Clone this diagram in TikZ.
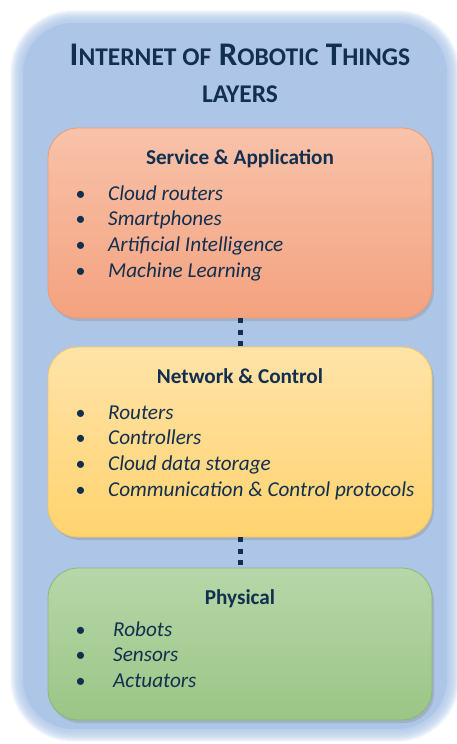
\documentclass[tikz,border=0pt]{standalone}
\usepackage{fontspec}
\setmainfont{Carlito}
\usepackage{xcolor}
\usetikzlibrary{positioning,shadows}

\definecolor{inkblue}{HTML}{132F4F}
\definecolor{backdrop}{HTML}{ADC6E7}
\definecolor{saTop}{HTML}{F8C2AA}
\definecolor{saBot}{HTML}{F4A27F}
\definecolor{saLine}{HTML}{EE9A72}
\definecolor{ncTop}{HTML}{FFE3A8}
\definecolor{ncBot}{HTML}{FFD36F}
\definecolor{ncLine}{HTML}{F4C55C}
\definecolor{phTop}{HTML}{B6D7A8}
\definecolor{phBot}{HTML}{9BC586}
\definecolor{phLine}{HTML}{8BB677}

\newcommand{\smallcap}[1]{{\fontsize{25.5}{30}\selectfont #1}}

\tikzset{
  layerbox/.style={rectangle, rounded corners=30pt, minimum width=384pt,
    line width=0.8pt, drop shadow={shadow xshift=2pt, shadow yshift=-3pt, opacity=0.3}},
  layerhead/.style={anchor=base, inner sep=0pt, text=inkblue, font=\fontsize{21.2}{24}\selectfont\bfseries},
  bulletdot/.style={anchor=base, inner sep=0pt, text=inkblue, font=\fontsize{20}{24}\selectfont},
  itemtext/.style={anchor=base west, inner sep=0pt, text=inkblue, font=\fontsize{21.2}{24}\selectfont\itshape},
  dots/.style={draw=inkblue, line width=5pt, dash pattern=on 5pt off 6.2pt}
}

\begin{document}
\begin{tikzpicture}[x=1pt,y=-1pt]
  \useasboundingbox (0,0) rectangle (457,744);

  % soft blue backdrop
  \foreach \d in {13,12.5,...,0.5}
    \fill[backdrop, opacity=0.07, rounded corners=50pt+\d pt]
      (23-\d,23-\d) rectangle (447+\d,729+\d);
  \fill[backdrop, rounded corners=50pt] (23,23) rectangle (447,729);

  % title
  \node[anchor=base, text=inkblue, font=\fontsize{33}{36}\selectfont\bfseries] (title) at (240,65)
    {I\smallcap{NTERNET OF} R\smallcap{OBOTIC} T\smallcap{HINGS}};
  \node[anchor=base, text=inkblue, font=\bfseries] (subtitle) at (240,102)
    {\smallcap{LAYERS}};

  % layers
  \node[layerbox, minimum height=190pt, draw=saLine, top color=saTop, bottom color=saBot]
    (service) at (240,223) {};
  \node[layerbox, minimum height=190pt, draw=ncLine, top color=ncTop, bottom color=ncBot]
    (network) at (240,442) {};
  \node[layerbox, minimum height=152pt, draw=phLine, top color=phTop, bottom color=phBot]
    (physical) at (240,644) {};

  \draw[dots] (service.south) -- (network.north);
  \draw[dots] (network.south) -- (physical.north);

  % service & application
  \node[layerhead] (service-head) at (240,164) {Service \& Application};
  \foreach \txt [count=\i from 0] in {Cloud routers, Smartphones,
      Artificial Intelligence, Machine Learning} {
    \node[bulletdot] (service-b\i) at (80.7,200+25.7*\i) {\textbullet};
    \node[itemtext] (service-\i) at (108,200+25.7*\i) {\txt};
  }

  % network & control
  \node[layerhead] (network-head) at (240,383) {Network \& Control};
  \foreach \txt [count=\i from 0] in {Routers, Controllers,
      Cloud data storage, {Communication \& Control protocols}} {
    \node[bulletdot] (network-b\i) at (80.7,419+25.7*\i) {\textbullet};
    \node[itemtext] (network-\i) at (108,419+25.7*\i) {\txt};
  }

  % physical
  \node[layerhead] (physical-head) at (240,604) {Physical};
  \foreach \txt [count=\i from 0] in {Robots, Sensors, Actuators} {
    \node[bulletdot] (physical-b\i) at (80.7,636+25.7*\i) {\textbullet};
    \node[itemtext] (physical-\i) at (113,636+25.7*\i) {\txt};
  }
\end{tikzpicture}
\end{document}
